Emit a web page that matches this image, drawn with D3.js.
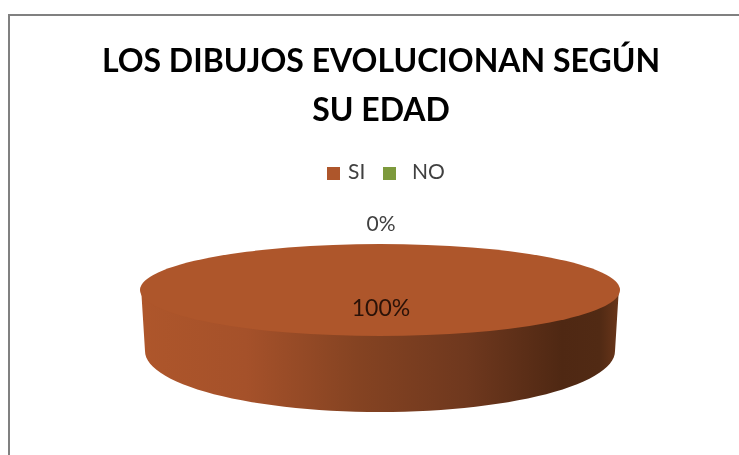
<!DOCTYPE html>
<html><head><meta charset="utf-8">
<script src="https://cdn.jsdelivr.net/npm/d3@7/dist/d3.min.js"></script>
<style>html,body{margin:0;padding:0;background:#fff}svg{display:block;filter:blur(0.45px)}text{font-family:Lato,"Open Sans",sans-serif}</style>
</head><body><div id="c"></div>
<script>
const categories = ["SI", "NO"];
const values = [100, 0];
const valueLabels = ["100%", "0%"];
const colors = ["#ae562b", "#7d9a3c"];
const titleLines = ["LOS DIBUJOS EVOLUCIONAN SEGÚN", "SU EDAD"];

const W = 739, H = 455;
const svg = d3.select("#c").append("svg").attr("width", W).attr("height", H);
const defs = svg.append("defs");

const cx = 380, topY = 290, rx = 240, ry = 46;
const botY = 351, botRx = 235, botRy = 61;

const grad = defs.append("linearGradient").attr("id", "side").attr("x1", "0").attr("x2", "1").attr("y1", "0").attr("y2", "0");
[[0, "#ae562b"], [0.22, "#a5512a"], [0.45, "#854322"], [0.68, "#6f381e"], [0.88, "#4f2813"], [0.96, "#512a14"], [1, "#6a361a"]]
  .forEach(d => grad.append("stop").attr("offset", d[0]).attr("stop-color", d[1]));

// Frame
svg.append("rect").attr("x", 9).attr("y", 15).attr("width", W + 20).attr("height", H + 20)
  .attr("fill", "#fff").attr("stroke", "#808080").attr("stroke-width", 2);

// Title
svg.append("g").selectAll("text").data(titleLines).join("text")
  .attr("x", 381).attr("y", (d, i) => 72 + i * 49)
  .attr("text-anchor", "middle").attr("font-size", 32).attr("font-weight", 700).attr("fill", "#000")
  .text(d => d);

// Legend
const legendX = d3.scalePoint().domain(categories).range([327, 383]);
const lg = svg.append("g").selectAll("g").data(categories).join("g")
  .attr("transform", d => `translate(${legendX(d)},166)`);
lg.append("rect").attr("width", 13).attr("height", 13).attr("y", 1).attr("fill", (d, i) => colors[i]);
lg.append("text").attr("x", (d, i) => i ? 29 : 21).attr("y", 13).attr("font-size", 21).attr("fill", "#404040").text(d => d);

// Pie
const pie = d3.pie().value(d => d).sort(null)(values);
const whole = pie[0];
const toPoint = (a, y0, rX, rY) => [cx + rX * Math.sin(a), y0 - rY * Math.cos(a)];
const front = d3.range(90, 271, 3).map(d => d * Math.PI / 180)
  .filter(a => a >= whole.startAngle && a <= whole.endAngle);
const line = d3.line();
const sidePts = front.map(a => toPoint(a, topY - 3, rx - 1, ry))
  .concat(front.slice().reverse().map(a => toPoint(a, botY, botRx, botRy)));
svg.append("path").attr("d", line(sidePts) + "Z").attr("fill", "url(#side)");

const arc = d3.arc().innerRadius(0).outerRadius(1);
svg.append("g").attr("transform", `translate(${cx},${topY}) scale(${rx},${ry})`)
  .selectAll("path").data(pie).join("path")
  .attr("d", arc).attr("fill", (d, i) => colors[i]);

// Data labels
const labelPos = [[381, 316], [381, 231]];
const labelSize = [23, 21];
svg.append("g").selectAll("text").data(valueLabels).join("text")
  .attr("x", (d, i) => labelPos[i][0]).attr("y", (d, i) => labelPos[i][1])
  .attr("text-anchor", "middle").attr("font-size", (d, i) => labelSize[i])
  .attr("fill", (d, i) => i ? "#404040" : "#2a1208").text(d => d);
</script></body></html>
